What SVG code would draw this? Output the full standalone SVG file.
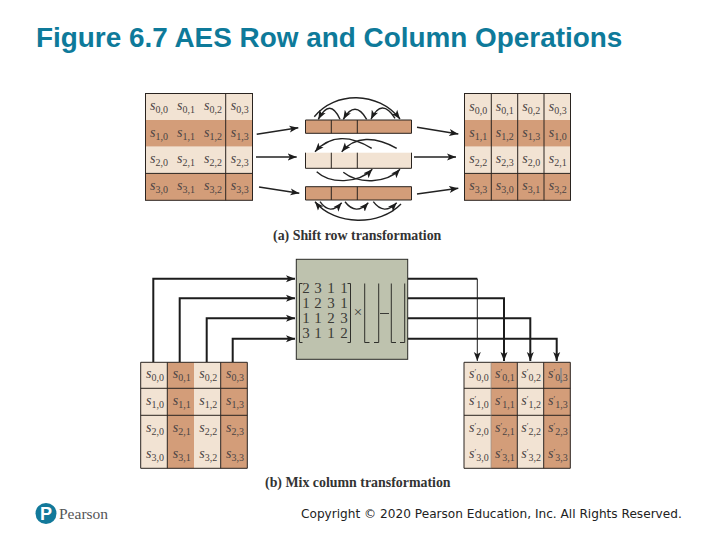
<svg xmlns="http://www.w3.org/2000/svg" width="720" height="540" viewBox="0 0 720 540">
<style>
.l{fill:#F2E3D3}.d{fill:#D39D79}
.b{fill:none;stroke:#2a2420;stroke-width:1}
.t{font-family:"Liberation Serif",serif;font-size:14px;fill:#4a4444}
.t .i{font-style:italic}
.t .u{font-size:10px}
.t .p{font-size:8px}
.w{fill:none;stroke:#1c1c1c;stroke-width:2}
.a{fill:none;stroke:#222;stroke-width:1.4;marker-end:url(#h)}
.g{fill:none;stroke:#222;stroke-width:1.5;marker-end:url(#h)}
.m{font-family:"Liberation Serif",serif;font-size:15px;fill:#3a3a36;text-anchor:middle}
.cap{font-family:"Liberation Serif",serif;font-size:13.9px;font-weight:bold;fill:#333}
</style>
<defs>
<marker id="h" markerUnits="userSpaceOnUse" markerWidth="10" markerHeight="8" refX="9" refY="4" orient="auto"><path d="M0,0.5L9,4L0,7.5L2.2,4z" fill="#1c1c1c"/></marker>
</defs>
<rect width="720" height="540" fill="#fff"/>
<text id="title" x="36" y="47" font-family="'Liberation Sans',sans-serif" font-weight="bold" font-size="27.9" fill="#0E7A9A">Figure 6.7 AES Row and Column Operations</text>

<g id="state-a-left">
<rect class="l" x="145.5" y="93.5" width="107" height="26.5"/><rect class="d" x="145.5" y="120" width="107" height="26.7"/><rect class="l" x="145.5" y="146.7" width="107" height="26.6"/><rect class="d" x="145.5" y="173.3" width="107" height="27"/>
<rect class="b" x="145.5" y="93.5" width="107" height="106.8"/><path class="b" d="M225.7,93.5V200.3M145.5,173.4H252.5"/>
<g class="t">
<text x="150" y="110"><tspan class="i">s</tspan><tspan class="u" dy="3">0,0</tspan></text><text x="177" y="110"><tspan class="i">s</tspan><tspan class="u" dy="3">0,1</tspan></text><text x="204" y="110"><tspan class="i">s</tspan><tspan class="u" dy="3">0,2</tspan></text><text x="230.7" y="110"><tspan class="i">s</tspan><tspan class="u" dy="3">0,3</tspan></text>
<text x="150" y="136.7"><tspan class="i">s</tspan><tspan class="u" dy="3">1,0</tspan></text><text x="177" y="136.7"><tspan class="i">s</tspan><tspan class="u" dy="3">1,1</tspan></text><text x="204" y="136.7"><tspan class="i">s</tspan><tspan class="u" dy="3">1,2</tspan></text><text x="230.7" y="136.7"><tspan class="i">s</tspan><tspan class="u" dy="3">1,3</tspan></text>
<text x="150" y="163"><tspan class="i">s</tspan><tspan class="u" dy="3">2,0</tspan></text><text x="177" y="163"><tspan class="i">s</tspan><tspan class="u" dy="3">2,1</tspan></text><text x="204" y="163"><tspan class="i">s</tspan><tspan class="u" dy="3">2,2</tspan></text><text x="230.7" y="163"><tspan class="i">s</tspan><tspan class="u" dy="3">2,3</tspan></text>
<text x="150" y="190"><tspan class="i">s</tspan><tspan class="u" dy="3">3,0</tspan></text><text x="177" y="190"><tspan class="i">s</tspan><tspan class="u" dy="3">3,1</tspan></text><text x="204" y="190"><tspan class="i">s</tspan><tspan class="u" dy="3">3,2</tspan></text><text x="230.7" y="190"><tspan class="i">s</tspan><tspan class="u" dy="3">3,3</tspan></text>
</g></g>

<g id="bars">
<rect class="d" x="305.5" y="120" width="106" height="13.3"/><rect class="l" x="305.5" y="152.7" width="106" height="15.6"/><rect class="d" x="305.5" y="186.7" width="106" height="13.3"/>
<path class="b" d="M305.5,120V133.3H411.5V120H305.5M331.3,120V133.3M357.3,120V133.3"/>
<path class="b" d="M305.5,152.7V168.3H411.5V152.7M331.3,152.7V168.3M357.3,152.7V168.3"/>
<path class="b" d="M305.5,186.7V200H411.5V186.7H305.5M331.3,186.7V200M357.3,186.7V200"/>
</g>

<g id="state-a-right">
<rect class="l" x="464.5" y="93.5" width="106" height="26.5"/><rect class="d" x="464.5" y="120" width="106" height="26.7"/><rect class="l" x="464.5" y="146.7" width="106" height="26.6"/><rect class="d" x="464.5" y="173.3" width="106" height="27"/>
<rect class="b" x="464.5" y="93.5" width="106" height="106.8"/><path class="b" d="M491.3,93.5V200.3M517.7,93.5V200.3M544,93.5V200.3M464.5,173.4H570.5"/>
<g class="t">
<text x="469.3" y="110.5"><tspan class="i">s</tspan><tspan class="u" dy="3">0,0</tspan></text><text x="495.7" y="110.5"><tspan class="i">s</tspan><tspan class="u" dy="3">0,1</tspan></text><text x="522.3" y="110.5"><tspan class="i">s</tspan><tspan class="u" dy="3">0,2</tspan></text><text x="548.7" y="110.5"><tspan class="i">s</tspan><tspan class="u" dy="3">0,3</tspan></text>
<text x="469.3" y="136.7"><tspan class="i">s</tspan><tspan class="u" dy="3">1,1</tspan></text><text x="495.7" y="136.7"><tspan class="i">s</tspan><tspan class="u" dy="3">1,2</tspan></text><text x="522.3" y="136.7"><tspan class="i">s</tspan><tspan class="u" dy="3">1,3</tspan></text><text x="548.7" y="136.7"><tspan class="i">s</tspan><tspan class="u" dy="3">1,0</tspan></text>
<text x="469.3" y="163.3"><tspan class="i">s</tspan><tspan class="u" dy="3">2,2</tspan></text><text x="495.7" y="163.3"><tspan class="i">s</tspan><tspan class="u" dy="3">2,3</tspan></text><text x="522.3" y="163.3"><tspan class="i">s</tspan><tspan class="u" dy="3">2,0</tspan></text><text x="548.7" y="163.3"><tspan class="i">s</tspan><tspan class="u" dy="3">2,1</tspan></text>
<text x="469.3" y="189.5"><tspan class="i">s</tspan><tspan class="u" dy="3">3,3</tspan></text><text x="495.7" y="189.5"><tspan class="i">s</tspan><tspan class="u" dy="3">3,0</tspan></text><text x="522.3" y="189.5"><tspan class="i">s</tspan><tspan class="u" dy="3">3,1</tspan></text><text x="548.7" y="189.5"><tspan class="i">s</tspan><tspan class="u" dy="3">3,2</tspan></text>
</g></g>

<g id="connectors-a">
<path class="g" d="M256.7,134.3L298.3,127.7"/><path class="a" d="M256,157H296.7"/><path class="g" d="M259,187L299.3,193.3"/>
<path class="g" d="M417,127.3L458.3,134"/><path class="a" d="M414,157H456"/><path class="g" d="M417,194L458.3,188.3"/>
<path class="a" d="M340,119.3Q330,97.3 318.3,119.3"/><path class="a" d="M366.7,119.3Q355,99.3 343.3,119.3"/><path class="a" d="M395,118.3Q381.7,97.3 371,119.3"/>
<path class="a" d="M314.3,116.7C335,91 378,91 400,119"/>
<path class="a" d="M371.7,148.3C350,135 330,135 315,151.7"/><path class="a" d="M396.7,148.3C375,136 355,136 341.7,151.7"/>
<path class="a" d="M316.7,171.7C330,184 358,184 372.3,169.3"/><path class="a" d="M343.3,172.3C358,184 386,184 400,169.3"/>
<path class="a" d="M320,201.7Q330,216 341.7,202.7"/><path class="a" d="M345,201.7Q356,216 368.3,202.7"/><path class="a" d="M373.3,201.7Q384,216 396.7,202.7"/>
<path class="a" d="M401,204C380,226 335,226 315,201.7"/>
</g>
<text id="caption-a" class="cap" x="273" y="240">(a) Shift row transformation</text>

<g id="mix-box">
<rect x="296.3" y="259.3" width="111.4" height="100" fill="#BEC2AE" stroke="#2a2a26" stroke-width="1"/>
<path fill="none" stroke="#2f2f2b" stroke-width="1" d="M302.5,283.5H299.5V342.5H302.5M347.5,283.5H350.5V342.5H347.5M364.7,283.5V342.5H369.5M378.7,283.5V342.5H374M391.3,283.5V342.5H396M404.7,283.5V342.5H400"/>
<path stroke="#3a3a36" stroke-width="1" d="M380,313.5H389"/>
<g class="m">
<text x="306" y="293">2</text><text x="318" y="293">3</text><text x="331" y="293">1</text><text x="344" y="293">1</text>
<text x="306" y="308">1</text><text x="318" y="308">2</text><text x="331" y="308">3</text><text x="344" y="308">1</text>
<text x="306" y="323">1</text><text x="318" y="323">1</text><text x="331" y="323">2</text><text x="344" y="323">3</text>
<text x="306" y="338">3</text><text x="318" y="338">1</text><text x="331" y="338">1</text><text x="344" y="338">2</text>
<text x="358" y="317">×</text>
</g></g>

<g id="connectors-b">
<path class="w" marker-end="url(#h)" d="M153.3,362V278.7H295"/><path class="w" marker-end="url(#h)" d="M179.7,362V298.3H295"/><path class="w" marker-end="url(#h)" d="M206.7,362V318.3H295"/><path class="w" marker-end="url(#h)" d="M232.7,362V338.7H295"/>
<path fill="none" stroke="#1c1c1c" stroke-width="2" d="M408,278.7H477.3"/><path fill="none" stroke="#1c1c1c" stroke-width="1" marker-end="url(#h)" d="M477.3,278.7V361"/>
<path class="w" marker-end="url(#h)" d="M408,298.3H504V361"/><path class="w" marker-end="url(#h)" d="M408,318.3H530.3V361"/><path class="w" marker-end="url(#h)" d="M408,338.7H556.7V361"/>
</g>

<g id="state-b-left">
<rect class="l" x="140.7" y="362.3" width="26.6" height="106"/><rect class="d" x="167.3" y="362.3" width="26.7" height="106"/><rect class="l" x="194" y="362.3" width="26.7" height="106"/><rect class="d" x="220.7" y="362.3" width="26.6" height="106"/>
<path class="b" d="M140.7,468.3V362.3H247.3V468.3H140.7M167.3,362.3V468.3M220.7,362.3V468.3M140.7,388.3H247.3M140.7,415.3H247.3"/>
<g class="t">
<text x="146" y="378.3"><tspan class="i">s</tspan><tspan class="u" dy="3">0,0</tspan></text><text x="172.7" y="378.3"><tspan class="i">s</tspan><tspan class="u" dy="3">0,1</tspan></text><text x="199.3" y="378.3"><tspan class="i">s</tspan><tspan class="u" dy="3">0,2</tspan></text><text x="226" y="378.3"><tspan class="i">s</tspan><tspan class="u" dy="3">0,3</tspan></text>
<text x="146" y="405"><tspan class="i">s</tspan><tspan class="u" dy="3">1,0</tspan></text><text x="172.7" y="405"><tspan class="i">s</tspan><tspan class="u" dy="3">1,1</tspan></text><text x="199.3" y="405"><tspan class="i">s</tspan><tspan class="u" dy="3">1,2</tspan></text><text x="226" y="405"><tspan class="i">s</tspan><tspan class="u" dy="3">1,3</tspan></text>
<text x="146" y="431.7"><tspan class="i">s</tspan><tspan class="u" dy="3">2,0</tspan></text><text x="172.7" y="431.7"><tspan class="i">s</tspan><tspan class="u" dy="3">2,1</tspan></text><text x="199.3" y="431.7"><tspan class="i">s</tspan><tspan class="u" dy="3">2,2</tspan></text><text x="226" y="431.7"><tspan class="i">s</tspan><tspan class="u" dy="3">2,3</tspan></text>
<text x="146" y="458.3"><tspan class="i">s</tspan><tspan class="u" dy="3">3,0</tspan></text><text x="172.7" y="458.3"><tspan class="i">s</tspan><tspan class="u" dy="3">3,1</tspan></text><text x="199.3" y="458.3"><tspan class="i">s</tspan><tspan class="u" dy="3">3,2</tspan></text><text x="226" y="458.3"><tspan class="i">s</tspan><tspan class="u" dy="3">3,3</tspan></text>
</g></g>

<g id="state-b-right">
<rect class="l" x="464" y="362.3" width="27" height="106"/><rect class="d" x="491" y="362.3" width="26.3" height="106"/><rect class="l" x="517.3" y="362.3" width="26.4" height="106"/><rect class="d" x="543.7" y="362.3" width="26.6" height="106"/>
<path class="b" d="M464,468.3V362.3H570.3V468.3H464M517.3,362.3V468.3M543.7,362.3V468.3M464,388.3H570.3M464,415.3H570.3"/>
<path stroke="#8a8a88" stroke-width="0.6" d="M491,362.3V468.3"/>
<g class="t">
<text x="469" y="378.3"><tspan class="i">s</tspan><tspan class="p" dy="-3">′</tspan><tspan class="u" dy="6">0,0</tspan></text><text x="495" y="378.3"><tspan class="i">s</tspan><tspan class="p" dy="-3">′</tspan><tspan class="u" dy="6">0,1</tspan></text><text x="521.3" y="378.3"><tspan class="i">s</tspan><tspan class="p" dy="-3">′</tspan><tspan class="u" dy="6">0,2</tspan></text><text x="548" y="378.3"><tspan class="i">s</tspan><tspan class="p" dy="-3">′</tspan><tspan class="u" dy="6">0,3</tspan></text>
<text x="469" y="405"><tspan class="i">s</tspan><tspan class="p" dy="-3">′</tspan><tspan class="u" dy="6">1,0</tspan></text><text x="495" y="405"><tspan class="i">s</tspan><tspan class="p" dy="-3">′</tspan><tspan class="u" dy="6">1,1</tspan></text><text x="521.3" y="405"><tspan class="i">s</tspan><tspan class="p" dy="-3">′</tspan><tspan class="u" dy="6">1,2</tspan></text><text x="548" y="405"><tspan class="i">s</tspan><tspan class="p" dy="-3">′</tspan><tspan class="u" dy="6">1,3</tspan></text>
<text x="469" y="431.7"><tspan class="i">s</tspan><tspan class="p" dy="-3">′</tspan><tspan class="u" dy="6">2,0</tspan></text><text x="495" y="431.7"><tspan class="i">s</tspan><tspan class="p" dy="-3">′</tspan><tspan class="u" dy="6">2,1</tspan></text><text x="521.3" y="431.7"><tspan class="i">s</tspan><tspan class="p" dy="-3">′</tspan><tspan class="u" dy="6">2,2</tspan></text><text x="548" y="431.7"><tspan class="i">s</tspan><tspan class="p" dy="-3">′</tspan><tspan class="u" dy="6">2,3</tspan></text>
<text x="469" y="458.3"><tspan class="i">s</tspan><tspan class="p" dy="-3">′</tspan><tspan class="u" dy="6">3,0</tspan></text><text x="495" y="458.3"><tspan class="i">s</tspan><tspan class="p" dy="-3">′</tspan><tspan class="u" dy="6">3,1</tspan></text><text x="521.3" y="458.3"><tspan class="i">s</tspan><tspan class="p" dy="-3">′</tspan><tspan class="u" dy="6">3,2</tspan></text><text x="548" y="458.3"><tspan class="i">s</tspan><tspan class="p" dy="-3">′</tspan><tspan class="u" dy="6">3,3</tspan></text>
</g>
<path stroke="#5f7f95" stroke-width="1" d="M561,368V383"/>
</g>
<text id="caption-b" class="cap" x="265" y="487">(b) Mix column transformation</text>

<g id="logo">
<circle cx="46" cy="513.5" r="10.5" fill="#12799A"/>
<text x="46" y="520" text-anchor="middle" font-family="'Liberation Sans',sans-serif" font-weight="bold" font-size="18" fill="#fff">P</text>
<text x="59" y="519" font-family="'Liberation Serif',serif" font-size="15.5" fill="#555">Pearson</text>
</g>
<text id="copyright" x="301" y="518" font-family="'DejaVu Sans',sans-serif" font-size="12.14" fill="#222">Copyright © 2020 Pearson Education, Inc. All Rights Reserved.</text>
</svg>
